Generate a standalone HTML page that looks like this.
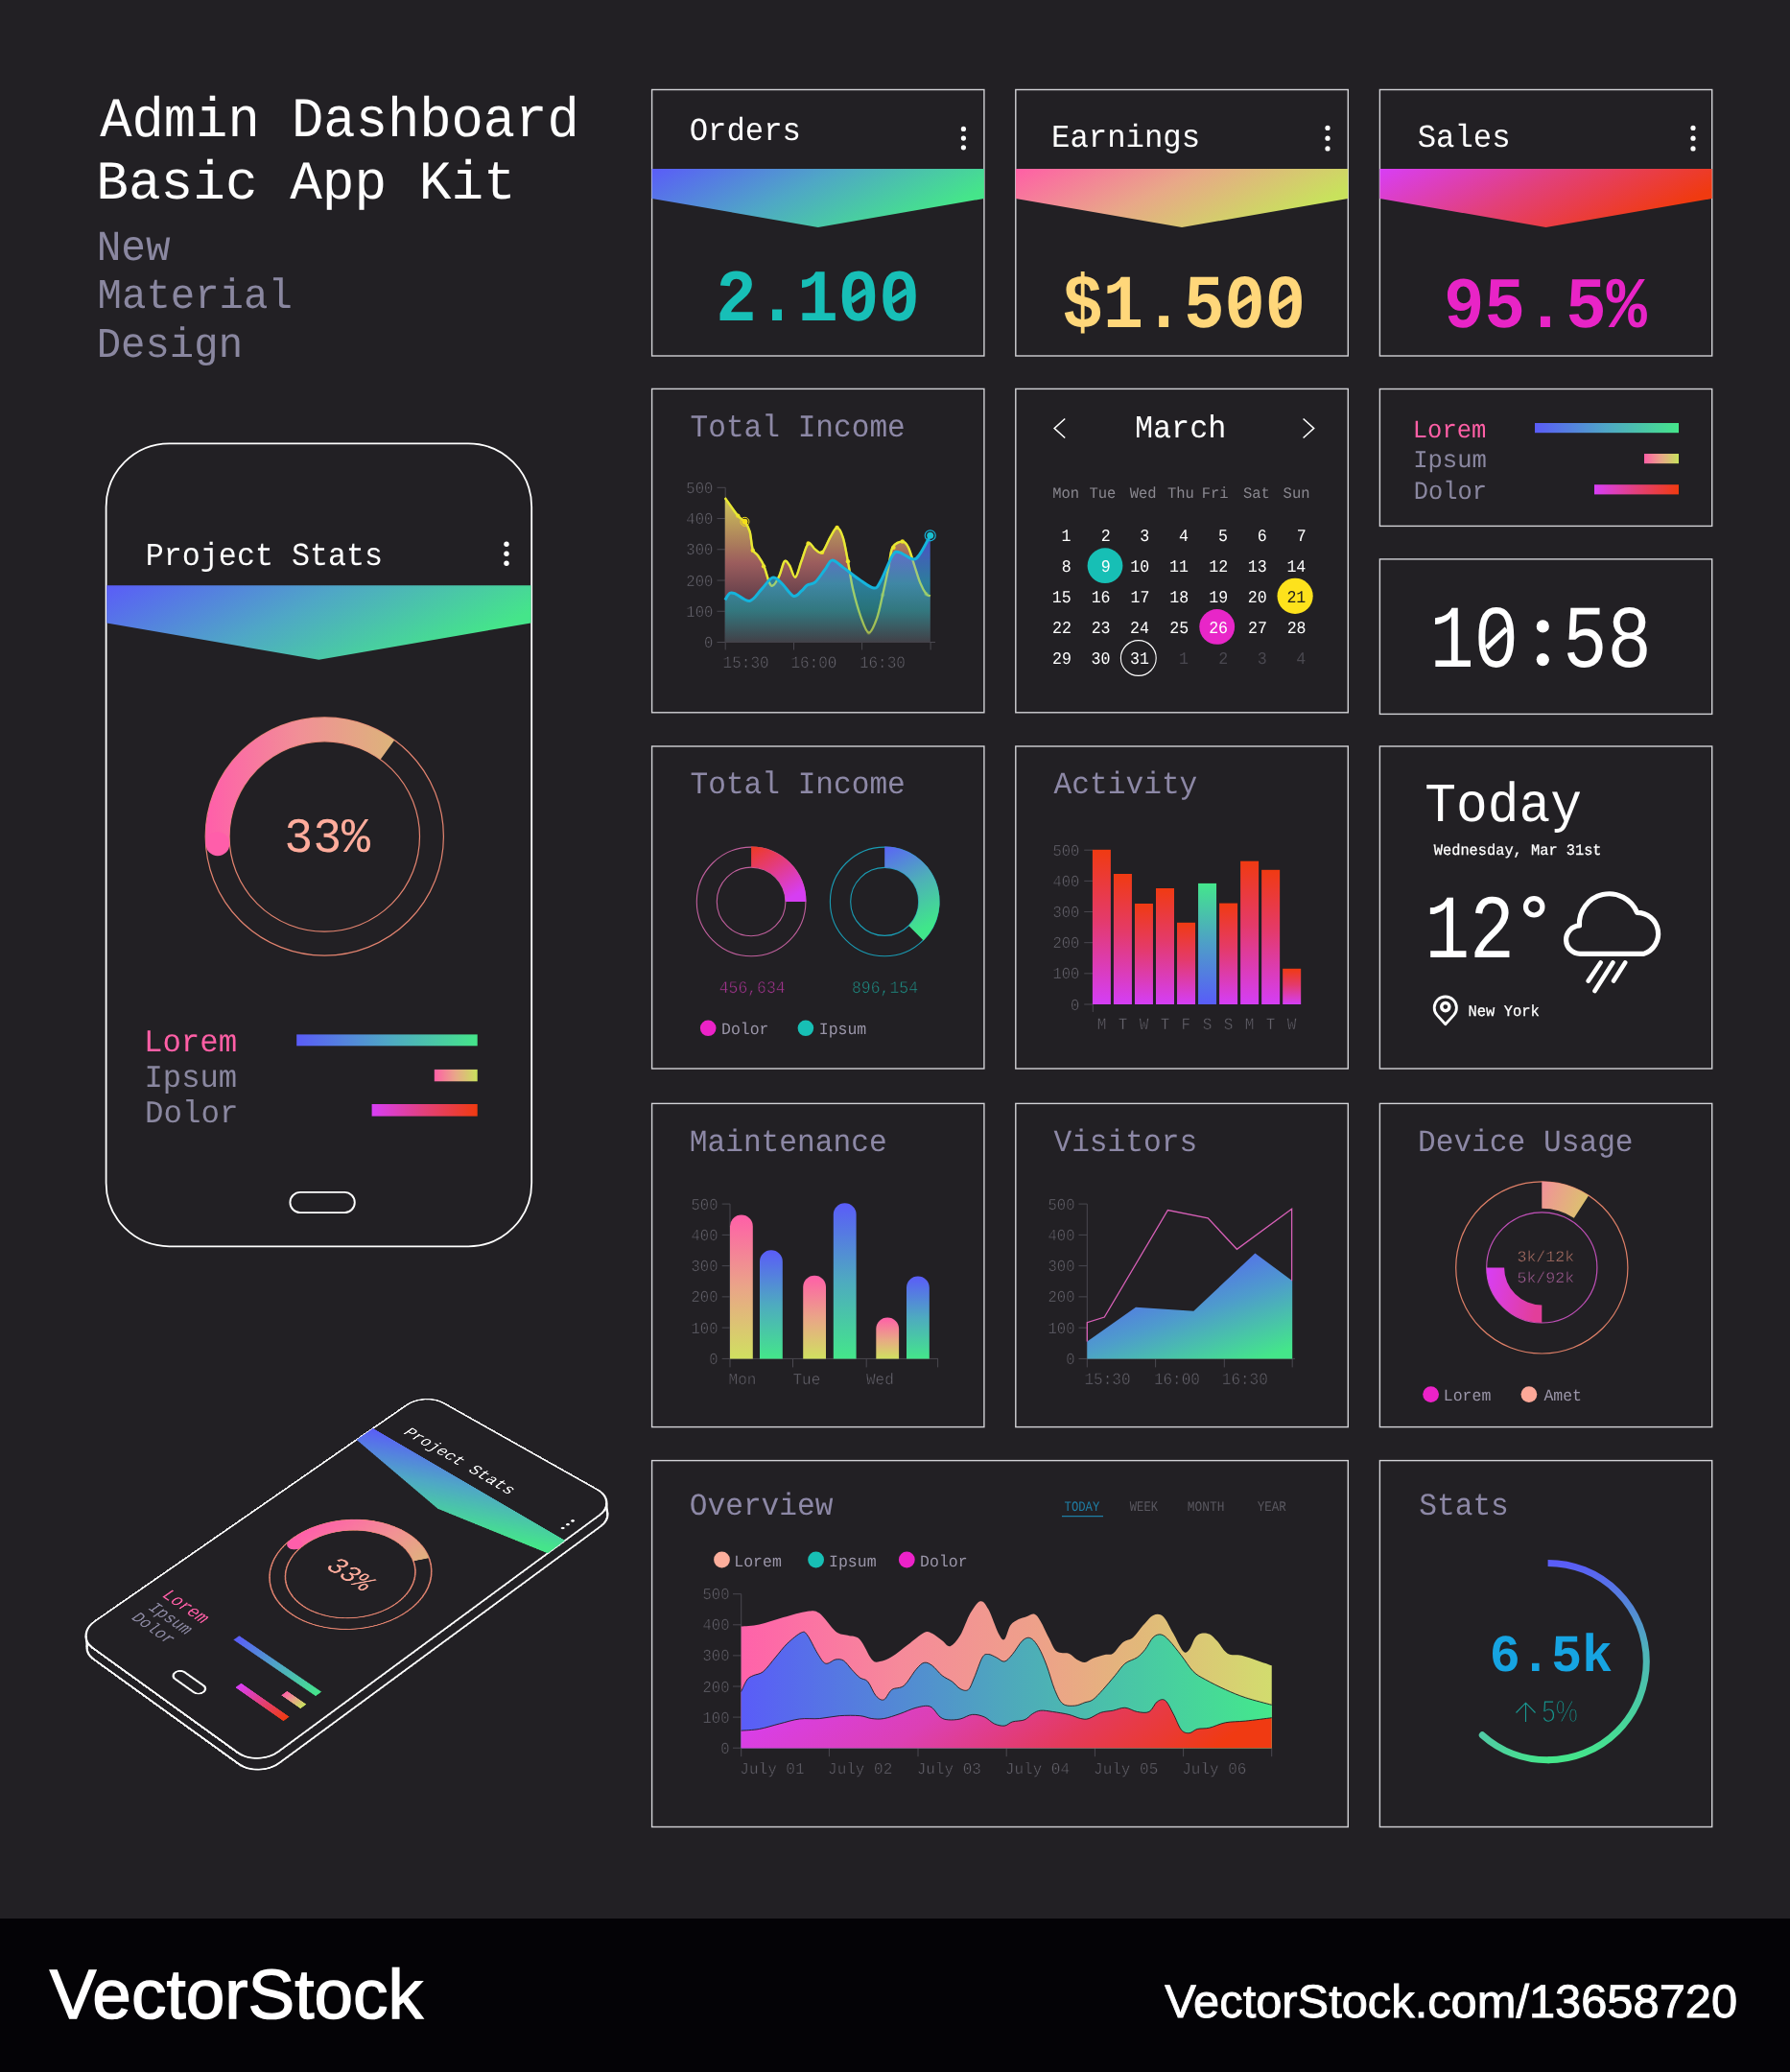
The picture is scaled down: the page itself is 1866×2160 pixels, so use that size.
<!DOCTYPE html>
<html><head><meta charset="utf-8"><style>
html,body{margin:0;padding:0;background:#222024;}
body{width:1866px;height:2160px;overflow:hidden;}
svg{display:block;will-change:transform;}
text{text-rendering:geometricPrecision;}
</style></head><body>
<svg width="1866" height="2160" viewBox="0 0 1866 2160">
<defs><linearGradient id="gBG" x1="0" y1="0" x2="1" y2="0.35"><stop offset="0" stop-color="#5a5cf8"/><stop offset="0.5" stop-color="#4fa7c6"/><stop offset="1" stop-color="#45e58a"/></linearGradient><linearGradient id="gPY" x1="0" y1="0" x2="1" y2="0.35"><stop offset="0" stop-color="#ff5fa6"/><stop offset="0.5" stop-color="#e8a888"/><stop offset="1" stop-color="#c8e25c"/></linearGradient><linearGradient id="gMR" x1="0" y1="0" x2="1" y2="0.35"><stop offset="0" stop-color="#d83ef6"/><stop offset="0.5" stop-color="#e2407a"/><stop offset="1" stop-color="#f03a10"/></linearGradient><linearGradient id="gYF" x1="0" y1="0" x2="0" y2="1"><stop offset="0" stop-color="#d8cf5c"/><stop offset="0.45" stop-color="#a26060"/><stop offset="0.75" stop-color="#5a3a48"/><stop offset="1" stop-color="#3a3640"/></linearGradient><linearGradient id="gCF" x1="0" y1="0" x2="0" y2="1"><stop offset="0" stop-color="#5a5cf8"/><stop offset="0.45" stop-color="#2f98bc"/><stop offset="0.7" stop-color="#2a8a90"/><stop offset="1" stop-color="#44444a"/></linearGradient><linearGradient id="hBG" x1="0" y1="0" x2="1" y2="0"><stop offset="0" stop-color="#5a5cf8"/><stop offset="0.5" stop-color="#4fa7c6"/><stop offset="1" stop-color="#45e58a"/></linearGradient><linearGradient id="hPY" x1="0" y1="0" x2="1" y2="0"><stop offset="0" stop-color="#ff5fa6"/><stop offset="0.5" stop-color="#e8a888"/><stop offset="1" stop-color="#c8e25c"/></linearGradient><linearGradient id="hMR" x1="0" y1="0" x2="1" y2="0"><stop offset="0" stop-color="#d83ef6"/><stop offset="0.5" stop-color="#e2407a"/><stop offset="1" stop-color="#f03a10"/></linearGradient><linearGradient id="dRM" x1="0" y1="0" x2="0.6" y2="1"><stop offset="0" stop-color="#ee3a22"/><stop offset="1" stop-color="#d63ef2"/></linearGradient><linearGradient id="dBG" x1="0" y1="0" x2="0.3" y2="1"><stop offset="0" stop-color="#5a64f6"/><stop offset="0.5" stop-color="#4eb0b8"/><stop offset="1" stop-color="#40e68a"/></linearGradient><linearGradient id="bRP" x1="0" y1="0" x2="0" y2="1"><stop offset="0" stop-color="#f03a12"/><stop offset="0.45" stop-color="#e43a6a"/><stop offset="1" stop-color="#d43ef6"/></linearGradient><linearGradient id="bGB" x1="0" y1="0" x2="0" y2="1"><stop offset="0" stop-color="#44e68c"/><stop offset="0.5" stop-color="#4e9ec8"/><stop offset="1" stop-color="#585cf8"/></linearGradient><linearGradient id="vPY" x1="0" y1="0" x2="0" y2="1"><stop offset="0" stop-color="#ff5fa8"/><stop offset="0.5" stop-color="#eaa488"/><stop offset="1" stop-color="#d0e060"/></linearGradient><linearGradient id="vBG" x1="0" y1="0" x2="0" y2="1"><stop offset="0" stop-color="#5a5cf8"/><stop offset="0.5" stop-color="#4eaac0"/><stop offset="1" stop-color="#44e68a"/></linearGradient><linearGradient id="vis" x1="0.25" y1="0.1" x2="0.85" y2="1"><stop offset="0" stop-color="#585cf8"/><stop offset="0.5" stop-color="#4e9ccc"/><stop offset="1" stop-color="#44e68a"/></linearGradient><linearGradient id="duA" x1="0" y1="0" x2="1" y2="0.3"><stop offset="0" stop-color="#f2909a"/><stop offset="1" stop-color="#dcc070"/></linearGradient><linearGradient id="duL" x1="0" y1="0" x2="1" y2="0.2"><stop offset="0" stop-color="#d83ef6"/><stop offset="1" stop-color="#e23e9a"/></linearGradient><linearGradient id="oT" x1="0" y1="0" x2="1" y2="0"><stop offset="0" stop-color="#ff62aa"/><stop offset="0.3" stop-color="#f68a9a"/><stop offset="0.55" stop-color="#eea08a"/><stop offset="0.75" stop-color="#e2b87a"/><stop offset="1" stop-color="#d2dc6e"/></linearGradient><linearGradient id="oM" x1="0" y1="0" x2="1" y2="0"><stop offset="0" stop-color="#5a5cf8"/><stop offset="0.5" stop-color="#4ea8bc"/><stop offset="1" stop-color="#44e88c"/></linearGradient><linearGradient id="oB" x1="0" y1="0" x2="1" y2="0.12"><stop offset="0" stop-color="#d83ef6"/><stop offset="0.4" stop-color="#dc40b4"/><stop offset="0.7" stop-color="#e43a5c"/><stop offset="0.88" stop-color="#ea3a32"/><stop offset="1" stop-color="#f03a12"/></linearGradient><linearGradient id="stG" gradientUnits="userSpaceOnUse" x1="1613" y1="1629" x2="1613" y2="1836"><stop offset="0" stop-color="#5a5cf8"/><stop offset="0.45" stop-color="#4eb4b8"/><stop offset="1" stop-color="#44e68a"/></linearGradient><linearGradient id="stG2" gradientUnits="userSpaceOnUse" x1="1613" y1="1836" x2="1540" y2="1800"><stop offset="0" stop-color="#44e68a"/><stop offset="1" stop-color="#52c8a8"/></linearGradient><linearGradient id="pA" gradientUnits="userSpaceOnUse" x1="214" y1="0" x2="412" y2="0"><stop offset="0" stop-color="#ff5eaa"/><stop offset="0.5" stop-color="#f19096"/><stop offset="1" stop-color="#dcb47a"/></linearGradient></defs>
<rect x="0" y="0" width="1866" height="2000" fill="#222024"/>
<rect x="0" y="2000" width="1866" height="160" fill="#040306"/>
<text transform="translate(104.20,141.80) scale(1,1.0539)" font-family='"Liberation Mono", monospace' font-size="55.50" fill="#ffffff" >Admin Dashboard</text>
<text transform="translate(100.31,207.30) scale(1,1.0131)" font-family='"Liberation Mono", monospace' font-size="56.07" fill="#ffffff" >Basic App Kit</text>
<text transform="translate(100.68,270.60) scale(1,1.0434)" font-family='"Liberation Mono", monospace' font-size="42.75" fill="#8a87a0" >New</text>
<text transform="translate(101.56,320.90) scale(1,1.0360)" font-family='"Liberation Mono", monospace' font-size="42.35" fill="#8a87a0" >Material</text>
<text transform="translate(100.72,371.80) scale(1,1.0397)" font-family='"Liberation Mono", monospace' font-size="42.30" fill="#8a87a0" >Design</text>
<rect x="679.60" y="93.50" width="346.30" height="277.50" fill="none" stroke="#d2d2d6" stroke-width="1.4"/>
<rect x="1058.80" y="93.50" width="346.50" height="277.50" fill="none" stroke="#d2d2d6" stroke-width="1.4"/>
<rect x="1438.40" y="93.50" width="346.30" height="277.50" fill="none" stroke="#d2d2d6" stroke-width="1.4"/>
<rect x="679.60" y="405.40" width="346.30" height="337.40" fill="none" stroke="#d2d2d6" stroke-width="1.4"/>
<rect x="1058.80" y="405.40" width="346.50" height="337.40" fill="none" stroke="#d2d2d6" stroke-width="1.4"/>
<rect x="1438.40" y="405.50" width="346.30" height="142.90" fill="none" stroke="#d2d2d6" stroke-width="1.4"/>
<rect x="1438.40" y="582.90" width="346.30" height="161.50" fill="none" stroke="#d2d2d6" stroke-width="1.4"/>
<rect x="679.60" y="778.00" width="346.30" height="336.00" fill="none" stroke="#d2d2d6" stroke-width="1.4"/>
<rect x="679.60" y="1150.40" width="346.30" height="337.20" fill="none" stroke="#d2d2d6" stroke-width="1.4"/>
<rect x="1058.80" y="778.00" width="346.50" height="336.00" fill="none" stroke="#d2d2d6" stroke-width="1.4"/>
<rect x="1058.80" y="1150.40" width="346.50" height="337.20" fill="none" stroke="#d2d2d6" stroke-width="1.4"/>
<rect x="1438.40" y="778.00" width="346.30" height="336.00" fill="none" stroke="#d2d2d6" stroke-width="1.4"/>
<rect x="1438.40" y="1150.40" width="346.30" height="337.20" fill="none" stroke="#d2d2d6" stroke-width="1.4"/>
<rect x="679.60" y="1522.60" width="725.70" height="381.90" fill="none" stroke="#d2d2d6" stroke-width="1.4"/>
<rect x="1438.40" y="1522.60" width="346.30" height="381.90" fill="none" stroke="#d2d2d6" stroke-width="1.4"/>
<polygon points="679.6,176.0 1025.9,176.0 1025.9,207.0 852.75,237.0 679.6,207.0" fill="url(#gBG)"/>
<polygon points="1058.8,176.0 1405.3,176.0 1405.3,207.0 1232.05,237.0 1058.8,207.0" fill="url(#gPY)"/>
<polygon points="1438.4,176.0 1784.7,176.0 1784.7,207.0 1611.5500000000002,237.0 1438.4,207.0" fill="url(#gMR)"/>
<text transform="translate(718.68,145.60) scale(1,1.0397)" font-family='"Liberation Mono", monospace' font-size="32.30" fill="#ffffff" >Orders</text>
<text transform="translate(1096.02,152.50) scale(1,1.0397)" font-family='"Liberation Mono", monospace' font-size="32.30" fill="#ffffff" >Earnings</text>
<text transform="translate(1477.71,152.50) scale(1,1.0397)" font-family='"Liberation Mono", monospace' font-size="32.30" fill="#ffffff" >Sales</text>
<circle cx="1004.4" cy="134.40" r="2.6" fill="#ffffff"/>
<circle cx="1004.4" cy="144.10" r="2.6" fill="#ffffff"/>
<circle cx="1004.4" cy="153.80" r="2.6" fill="#ffffff"/>
<circle cx="1384.0" cy="133.40" r="2.6" fill="#ffffff"/>
<circle cx="1384.0" cy="144.15" r="2.6" fill="#ffffff"/>
<circle cx="1384.0" cy="154.90" r="2.6" fill="#ffffff"/>
<circle cx="1765.0" cy="133.40" r="2.6" fill="#ffffff"/>
<circle cx="1765.0" cy="144.15" r="2.6" fill="#ffffff"/>
<circle cx="1765.0" cy="154.90" r="2.6" fill="#ffffff"/>
<text transform="translate(746.25,333.70) scale(1,1.0886)" font-family='"Liberation Mono", monospace' font-size="70.88" fill="#17bfb7" font-weight="bold" >2.100</text>
<text transform="translate(1107.54,340.70) scale(1,1.1252)" font-family='"Liberation Mono", monospace' font-size="70.37" fill="#ffd77a" font-weight="bold" >$1.500</text>
<text transform="translate(1505.12,340.70) scale(1,1.0714)" font-family='"Liberation Mono", monospace' font-size="70.63" fill="#e824c6" font-weight="bold" >95.5%</text>
<rect x="888.20" y="301.30" width="13.6" height="14.4" fill="#222024"/>
<line x1="887.18" y1="313.80" x2="902.82" y2="303.20" stroke="#17bfb7" stroke-width="6.2"/>
<rect x="930.70" y="301.30" width="13.6" height="14.4" fill="#222024"/>
<line x1="929.45" y1="313.80" x2="945.55" y2="303.20" stroke="#17bfb7" stroke-width="6.2"/>
<rect x="1290.70" y="307.80" width="13.6" height="14.4" fill="#222024"/>
<line x1="1289.45" y1="320.40" x2="1305.55" y2="309.60" stroke="#ffd77a" stroke-width="6.2"/>
<rect x="1333.20" y="307.80" width="13.6" height="14.4" fill="#222024"/>
<line x1="1332.18" y1="320.40" x2="1347.82" y2="309.60" stroke="#ffd77a" stroke-width="6.2"/>
<text transform="translate(719.51,455.40) scale(1,1.0555)" font-family='"Liberation Mono", monospace' font-size="31.15" fill="#8d88a6" >Total Income</text>
<line x1="747.5" y1="669.50" x2="756.2" y2="669.50" stroke="#4a4850" stroke-width="1"/>
<text transform="translate(733.93,675.00) scale(1,1.0794)" font-family='"Liberation Mono", monospace' font-size="15.50" fill="#67656e" stroke="#222024" stroke-width="0.45">0</text>
<line x1="747.5" y1="637.26" x2="756.2" y2="637.26" stroke="#4a4850" stroke-width="1"/>
<text transform="translate(715.33,642.76) scale(1,1.0794)" font-family='"Liberation Mono", monospace' font-size="15.50" fill="#67656e" stroke="#222024" stroke-width="0.45">100</text>
<line x1="747.5" y1="605.02" x2="756.2" y2="605.02" stroke="#4a4850" stroke-width="1"/>
<text transform="translate(715.33,610.52) scale(1,1.0794)" font-family='"Liberation Mono", monospace' font-size="15.50" fill="#67656e" stroke="#222024" stroke-width="0.45">200</text>
<line x1="747.5" y1="572.78" x2="756.2" y2="572.78" stroke="#4a4850" stroke-width="1"/>
<text transform="translate(715.33,578.28) scale(1,1.0794)" font-family='"Liberation Mono", monospace' font-size="15.50" fill="#67656e" stroke="#222024" stroke-width="0.45">300</text>
<line x1="747.5" y1="540.54" x2="756.2" y2="540.54" stroke="#4a4850" stroke-width="1"/>
<text transform="translate(715.33,546.04) scale(1,1.0794)" font-family='"Liberation Mono", monospace' font-size="15.50" fill="#67656e" stroke="#222024" stroke-width="0.45">400</text>
<line x1="747.5" y1="508.30" x2="756.2" y2="508.30" stroke="#4a4850" stroke-width="1"/>
<text transform="translate(715.33,513.80) scale(1,1.0794)" font-family='"Liberation Mono", monospace' font-size="15.50" fill="#67656e" stroke="#222024" stroke-width="0.45">500</text>
<line x1="756.2" y1="508.3" x2="756.2" y2="677.5" stroke="#4a4850" stroke-width="1"/>
<line x1="756.2" y1="669.5" x2="975" y2="669.5" stroke="#4a4850" stroke-width="1"/>
<line x1="827.5" y1="669.5" x2="827.5" y2="677.5" stroke="#4a4850" stroke-width="1"/>
<line x1="898.6" y1="669.5" x2="898.6" y2="677.5" stroke="#4a4850" stroke-width="1"/>
<line x1="970.1" y1="669.5" x2="970.1" y2="677.5" stroke="#4a4850" stroke-width="1"/>
<text transform="translate(753.58,696.00) scale(1,1.0794)" font-family='"Liberation Mono", monospace' font-size="16.00" fill="#67656e" stroke="#222024" stroke-width="0.45">15:30</text>
<text transform="translate(824.38,696.00) scale(1,1.0794)" font-family='"Liberation Mono", monospace' font-size="16.00" fill="#67656e" stroke="#222024" stroke-width="0.45">16:00</text>
<text transform="translate(895.88,696.00) scale(1,1.0794)" font-family='"Liberation Mono", monospace' font-size="16.00" fill="#67656e" stroke="#222024" stroke-width="0.45">16:30</text>
<path d="M755.78,519.02 C758.02,522.12 765.77,533.49 769.22,537.62 C772.66,541.76 774.38,541.07 776.45,543.82 C778.52,546.58 780.24,549.34 781.62,554.16 C783.00,558.98 783.34,568.63 784.72,572.76 C786.10,576.90 787.99,576.21 789.89,578.96 C791.78,581.72 794.02,584.48 796.09,589.30 C798.15,594.12 800.57,604.46 802.29,607.90 C804.01,611.35 804.70,611.35 806.42,609.97 C808.14,608.59 810.73,603.77 812.62,599.63 C814.52,595.50 816.07,586.89 817.79,585.16 C819.51,583.44 821.06,586.54 822.96,589.30 C824.85,592.05 827.09,602.39 829.16,601.70 C831.23,601.01 833.12,591.02 835.36,585.16 C837.60,579.31 840.18,568.63 842.59,566.56 C845.01,564.49 847.42,571.21 849.83,572.76 C852.24,574.31 854.48,577.93 857.06,575.86 C859.65,573.80 862.75,564.67 865.33,560.36 C867.92,556.05 870.33,550.02 872.57,550.02 C874.81,550.02 876.87,554.50 878.77,560.36 C880.66,566.22 882.21,576.21 883.93,585.16 C885.66,594.12 886.86,604.46 889.10,614.10 C891.34,623.75 894.61,635.46 897.37,643.04 C900.13,650.62 902.88,659.23 905.64,659.58 C908.39,659.92 911.49,651.65 913.91,645.11 C916.32,638.56 918.04,629.26 920.11,620.30 C922.17,611.35 924.59,599.63 926.31,591.37 C928.03,583.10 928.03,575.17 930.44,570.69 C932.85,566.22 938.02,564.49 940.78,564.49 C943.53,564.49 944.91,566.56 946.98,570.69 C949.05,574.83 951.11,583.10 953.18,589.30 C955.25,595.50 957.31,602.91 959.38,607.90 C961.45,612.90 963.86,617.03 965.58,619.27 C967.30,621.51 969.03,620.99 969.71,621.34 L969.71,669.5 L755.78,669.5 Z" fill="url(#gYF)" fill-opacity="0.95"/>
<path d="M755.78,519.02 C758.02,522.12 765.77,533.49 769.22,537.62 C772.66,541.76 774.38,541.07 776.45,543.82 C778.52,546.58 780.24,549.34 781.62,554.16 C783.00,558.98 783.34,568.63 784.72,572.76 C786.10,576.90 787.99,576.21 789.89,578.96 C791.78,581.72 794.02,584.48 796.09,589.30 C798.15,594.12 800.57,604.46 802.29,607.90 C804.01,611.35 804.70,611.35 806.42,609.97 C808.14,608.59 810.73,603.77 812.62,599.63 C814.52,595.50 816.07,586.89 817.79,585.16 C819.51,583.44 821.06,586.54 822.96,589.30 C824.85,592.05 827.09,602.39 829.16,601.70 C831.23,601.01 833.12,591.02 835.36,585.16 C837.60,579.31 840.18,568.63 842.59,566.56 C845.01,564.49 847.42,571.21 849.83,572.76 C852.24,574.31 854.48,577.93 857.06,575.86 C859.65,573.80 862.75,564.67 865.33,560.36 C867.92,556.05 870.33,550.02 872.57,550.02 C874.81,550.02 876.87,554.50 878.77,560.36 C880.66,566.22 882.21,576.21 883.93,585.16 C885.66,594.12 886.86,604.46 889.10,614.10 C891.34,623.75 894.61,635.46 897.37,643.04 C900.13,650.62 902.88,659.23 905.64,659.58 C908.39,659.92 911.49,651.65 913.91,645.11 C916.32,638.56 918.04,629.26 920.11,620.30 C922.17,611.35 924.59,599.63 926.31,591.37 C928.03,583.10 928.03,575.17 930.44,570.69 C932.85,566.22 938.02,564.49 940.78,564.49 C943.53,564.49 944.91,566.56 946.98,570.69 C949.05,574.83 951.11,583.10 953.18,589.30 C955.25,595.50 957.31,602.91 959.38,607.90 C961.45,612.90 963.86,617.03 965.58,619.27 C967.30,621.51 969.03,620.99 969.71,621.34" fill="none" stroke="#f5de1a" stroke-width="2.4"/>
<circle cx="769.22" cy="537.62" r="2.2" fill="#f5de1a"/>
<circle cx="784.72" cy="573.80" r="2.2" fill="#f5de1a"/>
<circle cx="796.09" cy="590.33" r="2.2" fill="#f5de1a"/>
<circle cx="842.59" cy="566.56" r="2.2" fill="#f5de1a"/>
<circle cx="857.06" cy="575.86" r="2.2" fill="#f5de1a"/>
<circle cx="872.57" cy="550.02" r="2.2" fill="#f5de1a"/>
<circle cx="883.93" cy="585.16" r="2.2" fill="#f5de1a"/>
<circle cx="905.64" cy="659.58" r="2.2" fill="#f5de1a"/>
<circle cx="920.11" cy="620.30" r="2.2" fill="#f5de1a"/>
<circle cx="931.48" cy="570.69" r="2.2" fill="#f5de1a"/>
<circle cx="940.78" cy="564.49" r="2.2" fill="#f5de1a"/>
<circle cx="965.58" cy="619.27" r="2.2" fill="#f5de1a"/>
<path d="M755.78,625.47 C756.64,624.26 759.05,619.27 760.95,618.24 C762.84,617.20 763.70,617.89 767.15,619.27 C770.59,620.65 777.14,627.37 781.62,626.50 C786.10,625.64 790.06,618.17 794.02,614.10 C797.98,610.04 801.94,603.15 805.39,602.11 C808.83,601.08 811.07,604.70 814.69,607.90 C818.31,611.10 823.65,619.96 827.09,621.34 C830.54,622.71 832.95,618.06 835.36,616.17 C837.77,614.27 839.15,611.52 841.56,609.97 C843.97,608.42 846.73,609.62 849.83,606.87 C852.93,604.11 857.24,597.22 860.16,593.43 C863.09,589.64 864.30,584.48 867.40,584.13 C870.50,583.79 874.12,588.09 878.77,591.37 C883.42,594.64 889.96,600.15 895.30,603.77 C900.64,607.38 907.02,612.72 910.81,613.07 C914.59,613.41 914.77,611.52 918.04,605.83 C921.31,600.15 927.17,583.96 930.44,578.96 C933.71,573.97 934.06,575.17 937.68,575.86 C941.29,576.55 948.53,582.92 952.15,583.10 C955.76,583.27 956.45,581.03 959.38,576.90 C962.31,572.76 967.99,561.39 969.71,558.29 L969.71,669.5 L755.78,669.5 Z" fill="url(#gCF)" fill-opacity="0.78"/>
<path d="M755.78,519.02 C758.02,522.12 765.77,533.49 769.22,537.62 C772.66,541.76 774.38,541.07 776.45,543.82 C778.52,546.58 780.24,549.34 781.62,554.16 C783.00,558.98 783.34,568.63 784.72,572.76 C786.10,576.90 787.99,576.21 789.89,578.96 C791.78,581.72 794.02,584.48 796.09,589.30 C798.15,594.12 800.57,604.46 802.29,607.90 C804.01,611.35 804.70,611.35 806.42,609.97 C808.14,608.59 810.73,603.77 812.62,599.63 C814.52,595.50 816.07,586.89 817.79,585.16 C819.51,583.44 821.06,586.54 822.96,589.30 C824.85,592.05 827.09,602.39 829.16,601.70 C831.23,601.01 833.12,591.02 835.36,585.16 C837.60,579.31 840.18,568.63 842.59,566.56 C845.01,564.49 847.42,571.21 849.83,572.76 C852.24,574.31 854.48,577.93 857.06,575.86 C859.65,573.80 862.75,564.67 865.33,560.36 C867.92,556.05 870.33,550.02 872.57,550.02 C874.81,550.02 876.87,554.50 878.77,560.36 C880.66,566.22 882.21,576.21 883.93,585.16 C885.66,594.12 886.86,604.46 889.10,614.10 C891.34,623.75 894.61,635.46 897.37,643.04 C900.13,650.62 902.88,659.23 905.64,659.58 C908.39,659.92 911.49,651.65 913.91,645.11 C916.32,638.56 918.04,629.26 920.11,620.30 C922.17,611.35 924.59,599.63 926.31,591.37 C928.03,583.10 928.03,575.17 930.44,570.69 C932.85,566.22 938.02,564.49 940.78,564.49 C943.53,564.49 944.91,566.56 946.98,570.69 C949.05,574.83 951.11,583.10 953.18,589.30 C955.25,595.50 957.31,602.91 959.38,607.90 C961.45,612.90 963.86,617.03 965.58,619.27 C967.30,621.51 969.03,620.99 969.71,621.34" fill="none" stroke="#d8f050" stroke-width="2.2" stroke-opacity="0.55"/>
<path d="M755.78,625.47 C756.64,624.26 759.05,619.27 760.95,618.24 C762.84,617.20 763.70,617.89 767.15,619.27 C770.59,620.65 777.14,627.37 781.62,626.50 C786.10,625.64 790.06,618.17 794.02,614.10 C797.98,610.04 801.94,603.15 805.39,602.11 C808.83,601.08 811.07,604.70 814.69,607.90 C818.31,611.10 823.65,619.96 827.09,621.34 C830.54,622.71 832.95,618.06 835.36,616.17 C837.77,614.27 839.15,611.52 841.56,609.97 C843.97,608.42 846.73,609.62 849.83,606.87 C852.93,604.11 857.24,597.22 860.16,593.43 C863.09,589.64 864.30,584.48 867.40,584.13 C870.50,583.79 874.12,588.09 878.77,591.37 C883.42,594.64 889.96,600.15 895.30,603.77 C900.64,607.38 907.02,612.72 910.81,613.07 C914.59,613.41 914.77,611.52 918.04,605.83 C921.31,600.15 927.17,583.96 930.44,578.96 C933.71,573.97 934.06,575.17 937.68,575.86 C941.29,576.55 948.53,582.92 952.15,583.10 C955.76,583.27 956.45,581.03 959.38,576.90 C962.31,572.76 967.99,561.39 969.71,558.29" fill="none" stroke="#15b4dc" stroke-width="3"/>
<circle cx="776.45" cy="543.82" r="4.5" fill="none" stroke="#f5de1a" stroke-width="1"/><circle cx="776.45" cy="543.82" r="3" fill="#f5de1a"/>
<circle cx="969.71" cy="558.29" r="5.5" fill="none" stroke="#15b4dc" stroke-width="1.2"/><circle cx="969.71" cy="558.29" r="3.5" fill="#19c0d0"/>
<text transform="translate(1182.89,456.00) scale(1,1.0436)" font-family='"Liberation Mono", monospace' font-size="31.84" fill="#ffffff" >March</text>
<path d="M1110.2,436.5 L1099.2,446.5 L1110.2,456.5" fill="none" stroke="#fff" stroke-width="1.6"/>
<path d="M1358.6,436.5 L1369.6,446.5 L1358.6,456.5" fill="none" stroke="#fff" stroke-width="1.6"/>
<text transform="translate(1097.24,518.60) scale(1,1.0397)" font-family='"Liberation Mono", monospace' font-size="15.50" fill="#8a8890" >Mon</text>
<text transform="translate(1135.48,518.60) scale(1,1.0397)" font-family='"Liberation Mono", monospace' font-size="15.50" fill="#8a8890" >Tue</text>
<text transform="translate(1177.75,518.60) scale(1,1.0397)" font-family='"Liberation Mono", monospace' font-size="15.50" fill="#8a8890" >Wed</text>
<text transform="translate(1216.94,518.60) scale(1,1.0397)" font-family='"Liberation Mono", monospace' font-size="15.50" fill="#8a8890" >Thu</text>
<text transform="translate(1252.70,518.60) scale(1,1.0397)" font-family='"Liberation Mono", monospace' font-size="15.50" fill="#8a8890" >Fri</text>
<text transform="translate(1295.95,518.60) scale(1,1.0397)" font-family='"Liberation Mono", monospace' font-size="15.50" fill="#8a8890" >Sat</text>
<text transform="translate(1337.60,518.60) scale(1,1.0397)" font-family='"Liberation Mono", monospace' font-size="15.50" fill="#8a8890" >Sun</text>
<circle cx="1152.0" cy="589.7" r="18.4" fill="#17bfb5"/>
<circle cx="1350.1" cy="621.3" r="18.6" fill="#fde21c"/>
<circle cx="1268.7" cy="653.4" r="18.4" fill="#e826c8"/>
<circle cx="1186.8" cy="686.0" r="18.4" fill="none" stroke="#ffffff" stroke-width="1.1"/>
<text transform="translate(1106.57,563.50) scale(1,1.0794)" font-family='"Liberation Mono", monospace' font-size="16.60" fill="#ffffff" >1</text>
<text transform="translate(1147.70,563.50) scale(1,1.0794)" font-family='"Liberation Mono", monospace' font-size="16.60" fill="#ffffff" >2</text>
<text transform="translate(1188.32,563.50) scale(1,1.0794)" font-family='"Liberation Mono", monospace' font-size="16.60" fill="#ffffff" >3</text>
<text transform="translate(1228.97,563.50) scale(1,1.0794)" font-family='"Liberation Mono", monospace' font-size="16.60" fill="#ffffff" >4</text>
<text transform="translate(1270.12,563.50) scale(1,1.0794)" font-family='"Liberation Mono", monospace' font-size="16.60" fill="#ffffff" >5</text>
<text transform="translate(1310.82,563.50) scale(1,1.0794)" font-family='"Liberation Mono", monospace' font-size="16.60" fill="#ffffff" >6</text>
<text transform="translate(1351.87,563.50) scale(1,1.0794)" font-family='"Liberation Mono", monospace' font-size="16.60" fill="#ffffff" >7</text>
<text transform="translate(1106.82,595.50) scale(1,1.0794)" font-family='"Liberation Mono", monospace' font-size="16.60" fill="#ffffff" >8</text>
<text transform="translate(1147.70,595.50) scale(1,1.0794)" font-family='"Liberation Mono", monospace' font-size="16.60" fill="#ffffff" >9</text>
<text transform="translate(1178.28,595.50) scale(1,1.0794)" font-family='"Liberation Mono", monospace' font-size="16.60" fill="#ffffff" >10</text>
<text transform="translate(1219.01,595.50) scale(1,1.0794)" font-family='"Liberation Mono", monospace' font-size="16.60" fill="#ffffff" >11</text>
<text transform="translate(1260.24,595.50) scale(1,1.0794)" font-family='"Liberation Mono", monospace' font-size="16.60" fill="#ffffff" >12</text>
<text transform="translate(1300.86,595.50) scale(1,1.0794)" font-family='"Liberation Mono", monospace' font-size="16.60" fill="#ffffff" >13</text>
<text transform="translate(1341.41,595.50) scale(1,1.0794)" font-family='"Liberation Mono", monospace' font-size="16.60" fill="#ffffff" >14</text>
<text transform="translate(1096.86,627.50) scale(1,1.0794)" font-family='"Liberation Mono", monospace' font-size="16.60" fill="#ffffff" >15</text>
<text transform="translate(1137.66,627.50) scale(1,1.0794)" font-family='"Liberation Mono", monospace' font-size="16.60" fill="#ffffff" >16</text>
<text transform="translate(1178.61,627.50) scale(1,1.0794)" font-family='"Liberation Mono", monospace' font-size="16.60" fill="#ffffff" >17</text>
<text transform="translate(1219.26,627.50) scale(1,1.0794)" font-family='"Liberation Mono", monospace' font-size="16.60" fill="#ffffff" >18</text>
<text transform="translate(1260.24,627.50) scale(1,1.0794)" font-family='"Liberation Mono", monospace' font-size="16.60" fill="#ffffff" >19</text>
<text transform="translate(1300.78,627.50) scale(1,1.0794)" font-family='"Liberation Mono", monospace' font-size="16.60" fill="#ffffff" >20</text>
<text transform="translate(1341.41,627.50) scale(1,1.0794)" font-family='"Liberation Mono", monospace' font-size="16.60" fill="#1a1a1a" >21</text>
<text transform="translate(1096.94,659.60) scale(1,1.0794)" font-family='"Liberation Mono", monospace' font-size="16.60" fill="#ffffff" >22</text>
<text transform="translate(1137.66,659.60) scale(1,1.0794)" font-family='"Liberation Mono", monospace' font-size="16.60" fill="#ffffff" >23</text>
<text transform="translate(1178.11,659.60) scale(1,1.0794)" font-family='"Liberation Mono", monospace' font-size="16.60" fill="#ffffff" >24</text>
<text transform="translate(1219.26,659.60) scale(1,1.0794)" font-family='"Liberation Mono", monospace' font-size="16.60" fill="#ffffff" >25</text>
<text transform="translate(1260.16,659.60) scale(1,1.0794)" font-family='"Liberation Mono", monospace' font-size="16.60" fill="#ffffff" >26</text>
<text transform="translate(1301.11,659.60) scale(1,1.0794)" font-family='"Liberation Mono", monospace' font-size="16.60" fill="#ffffff" >27</text>
<text transform="translate(1341.66,659.60) scale(1,1.0794)" font-family='"Liberation Mono", monospace' font-size="16.60" fill="#ffffff" >28</text>
<text transform="translate(1096.94,691.60) scale(1,1.0794)" font-family='"Liberation Mono", monospace' font-size="16.60" fill="#ffffff" >29</text>
<text transform="translate(1137.58,691.60) scale(1,1.0794)" font-family='"Liberation Mono", monospace' font-size="16.60" fill="#ffffff" >30</text>
<text transform="translate(1178.11,691.60) scale(1,1.0794)" font-family='"Liberation Mono", monospace' font-size="16.60" fill="#ffffff" >31</text>
<text transform="translate(1228.97,691.60) scale(1,1.0794)" font-family='"Liberation Mono", monospace' font-size="16.60" fill="#4a4850" >1</text>
<text transform="translate(1270.20,691.60) scale(1,1.0794)" font-family='"Liberation Mono", monospace' font-size="16.60" fill="#4a4850" >2</text>
<text transform="translate(1310.82,691.60) scale(1,1.0794)" font-family='"Liberation Mono", monospace' font-size="16.60" fill="#4a4850" >3</text>
<text transform="translate(1351.37,691.60) scale(1,1.0794)" font-family='"Liberation Mono", monospace' font-size="16.60" fill="#4a4850" >4</text>
<text transform="translate(1472.77,455.80) scale(1,1.0298)" font-family='"Liberation Mono", monospace' font-size="25.50" fill="#ff5fa6" >Lorem</text>
<text transform="translate(1473.14,487.20) scale(1,0.9986)" font-family='"Liberation Mono", monospace' font-size="25.58" fill="#8a87a0" >Ipsum</text>
<text transform="translate(1473.67,520.00) scale(1,1.0438)" font-family='"Liberation Mono", monospace' font-size="25.41" fill="#8a87a0" >Dolor</text>
<rect x="1600" y="441" width="150" height="10.2" fill="url(#hBG)"/>
<rect x="1714" y="473" width="36" height="10.2" fill="url(#hPY)"/>
<rect x="1662" y="505.2" width="88" height="10.2" fill="url(#hMR)"/>
<text transform="translate(1490.61,695.00) scale(1,1.2057)" font-family='"Liberation Mono", monospace' font-size="77.00" fill="#ffffff" >10 58</text>
<circle cx="1608.3" cy="652.9" r="6.6" fill="#fff"/><circle cx="1608.3" cy="687.6" r="6.6" fill="#fff"/>
<rect x="1553.5" y="657.0" width="13" height="15" fill="#222024"/>
<line x1="1549.5" y1="675.5" x2="1570.5" y2="655.5" stroke="#fff" stroke-width="5.4"/>
<text transform="translate(719.51,827.30) scale(1,1.0506)" font-family='"Liberation Mono", monospace' font-size="31.15" fill="#8d88a6" >Total Income</text>
<circle cx="783.1" cy="939.9" r="56.8" fill="none" stroke="#c2609e" stroke-width="1.1"/>
<circle cx="783.1" cy="939.9" r="35.8" fill="none" stroke="#c2609e" stroke-width="1.1"/>
<circle cx="922.2" cy="939.9" r="56.8" fill="none" stroke="#1a9cb4" stroke-width="1.1"/>
<circle cx="922.2" cy="939.9" r="35.5" fill="none" stroke="#1a9cb4" stroke-width="1.1"/>
<path d="M783.10,882.60 A57.3,57.3 0 0 1 840.40,939.90 L818.90,939.90 A35.8,35.8 0 0 0 783.10,904.10 Z" fill="url(#dRM)"/>
<path d="M922.20,882.60 A57.3,57.3 0 0 1 962.72,980.42 L947.30,965.00 A35.5,35.5 0 0 0 922.20,904.40 Z" fill="url(#dBG)"/>
<text transform="translate(749.78,1035.20) scale(1,1.0928)" font-family='"Liberation Mono", monospace' font-size="16.39" fill="#a3358f" stroke="#222024" stroke-width="0.45">456,634</text>
<text transform="translate(887.93,1035.20) scale(1,1.0871)" font-family='"Liberation Mono", monospace' font-size="16.47" fill="#1f8f86" stroke="#222024" stroke-width="0.45">896,154</text>
<circle cx="738.2" cy="1071.8" r="8.3" fill="#ec22c8"/>
<circle cx="839.9" cy="1071.8" r="8.3" fill="#17bfb5"/>
<text transform="translate(751.98,1078.00) scale(1,1.0397)" font-family='"Liberation Mono", monospace' font-size="16.50" fill="#9a95a8" >Dolor</text>
<text transform="translate(853.75,1078.00) scale(1,1.0397)" font-family='"Liberation Mono", monospace' font-size="16.50" fill="#9a95a8" >Ipsum</text>
<text transform="translate(1098.60,827.30) scale(1,1.0397)" font-family='"Liberation Mono", monospace' font-size="31.20" fill="#8d88a6" >Activity</text>
<line x1="1130.2" y1="1047.00" x2="1139.3" y2="1047.00" stroke="#4a4850" stroke-width="1"/>
<text transform="translate(1116.03,1052.50) scale(1,1.0794)" font-family='"Liberation Mono", monospace' font-size="15.50" fill="#67656e" stroke="#222024" stroke-width="0.45">0</text>
<line x1="1130.2" y1="1014.84" x2="1139.3" y2="1014.84" stroke="#4a4850" stroke-width="1"/>
<text transform="translate(1097.43,1020.34) scale(1,1.0794)" font-family='"Liberation Mono", monospace' font-size="15.50" fill="#67656e" stroke="#222024" stroke-width="0.45">100</text>
<line x1="1130.2" y1="982.68" x2="1139.3" y2="982.68" stroke="#4a4850" stroke-width="1"/>
<text transform="translate(1097.43,988.18) scale(1,1.0794)" font-family='"Liberation Mono", monospace' font-size="15.50" fill="#67656e" stroke="#222024" stroke-width="0.45">200</text>
<line x1="1130.2" y1="950.52" x2="1139.3" y2="950.52" stroke="#4a4850" stroke-width="1"/>
<text transform="translate(1097.43,956.02) scale(1,1.0794)" font-family='"Liberation Mono", monospace' font-size="15.50" fill="#67656e" stroke="#222024" stroke-width="0.45">300</text>
<line x1="1130.2" y1="918.36" x2="1139.3" y2="918.36" stroke="#4a4850" stroke-width="1"/>
<text transform="translate(1097.43,923.86) scale(1,1.0794)" font-family='"Liberation Mono", monospace' font-size="15.50" fill="#67656e" stroke="#222024" stroke-width="0.45">400</text>
<line x1="1130.2" y1="886.20" x2="1139.3" y2="886.20" stroke="#4a4850" stroke-width="1"/>
<text transform="translate(1097.43,891.70) scale(1,1.0794)" font-family='"Liberation Mono", monospace' font-size="15.50" fill="#67656e" stroke="#222024" stroke-width="0.45">500</text>
<line x1="1139.3" y1="1047.0" x2="1139.3" y2="1055.0" stroke="#4a4850" stroke-width="1"/>
<rect x="1138.90" y="885.8" width="19.0" height="161.20" fill="url(#bRP)"/>
<text transform="translate(1143.64,1072.80) scale(1,1.0794)" font-family='"Liberation Mono", monospace' font-size="16.00" fill="#67656e" stroke="#222024" stroke-width="0.45">M</text>
<rect x="1160.93" y="911.0" width="19.0" height="136.00" fill="url(#bRP)"/>
<text transform="translate(1165.63,1072.80) scale(1,1.0794)" font-family='"Liberation Mono", monospace' font-size="16.00" fill="#67656e" stroke="#222024" stroke-width="0.45">T</text>
<rect x="1182.96" y="942.0" width="19.0" height="105.00" fill="url(#bRP)"/>
<text transform="translate(1187.66,1072.80) scale(1,1.0794)" font-family='"Liberation Mono", monospace' font-size="16.00" fill="#67656e" stroke="#222024" stroke-width="0.45">W</text>
<rect x="1204.99" y="926.0" width="19.0" height="121.00" fill="url(#bRP)"/>
<text transform="translate(1209.69,1072.80) scale(1,1.0794)" font-family='"Liberation Mono", monospace' font-size="16.00" fill="#67656e" stroke="#222024" stroke-width="0.45">T</text>
<rect x="1227.02" y="961.8" width="19.0" height="85.20" fill="url(#bRP)"/>
<text transform="translate(1231.52,1072.80) scale(1,1.0794)" font-family='"Liberation Mono", monospace' font-size="16.00" fill="#67656e" stroke="#222024" stroke-width="0.45">F</text>
<rect x="1249.05" y="920.9" width="19.0" height="126.10" fill="url(#bGB)"/>
<text transform="translate(1253.83,1072.80) scale(1,1.0794)" font-family='"Liberation Mono", monospace' font-size="16.00" fill="#67656e" stroke="#222024" stroke-width="0.45">S</text>
<rect x="1271.08" y="941.6" width="19.0" height="105.40" fill="url(#bRP)"/>
<text transform="translate(1275.86,1072.80) scale(1,1.0794)" font-family='"Liberation Mono", monospace' font-size="16.00" fill="#67656e" stroke="#222024" stroke-width="0.45">S</text>
<rect x="1293.11" y="897.7" width="19.0" height="149.30" fill="url(#bRP)"/>
<text transform="translate(1297.85,1072.80) scale(1,1.0794)" font-family='"Liberation Mono", monospace' font-size="16.00" fill="#67656e" stroke="#222024" stroke-width="0.45">M</text>
<rect x="1315.14" y="906.8" width="19.0" height="140.20" fill="url(#bRP)"/>
<text transform="translate(1319.84,1072.80) scale(1,1.0794)" font-family='"Liberation Mono", monospace' font-size="16.00" fill="#67656e" stroke="#222024" stroke-width="0.45">T</text>
<rect x="1337.17" y="1009.8" width="19.0" height="37.20" fill="url(#bRP)"/>
<text transform="translate(1341.87,1072.80) scale(1,1.0794)" font-family='"Liberation Mono", monospace' font-size="16.00" fill="#67656e" stroke="#222024" stroke-width="0.45">W</text>
<text transform="translate(1485.29,855.90) scale(1,1.0595)" font-family='"Liberation Mono", monospace' font-size="54.54" fill="#ffffff" >Today</text>
<text transform="translate(1494.80,891.00) scale(1,1.0445)" font-family='"Liberation Mono", monospace' font-size="15.33" fill="#ffffff" stroke="#fff" stroke-width="0.25">Wednesday, Mar 31st</text>
<text transform="translate(1485.13,997.70) scale(1,1.2099)" font-family='"Liberation Mono", monospace' font-size="78.21" fill="#ffffff" >12</text>
<circle cx="1599.2" cy="945.3" r="8.7" fill="none" stroke="#fff" stroke-width="5.2"/>
<text transform="translate(1530.56,1059.00) scale(1,1.0597)" font-family='"Liberation Mono", monospace' font-size="15.46" fill="#ffffff" stroke="#fff" stroke-width="0.25">New York</text>
<path d="M1647.4,994.4 A14.8,14.8 0 0 1 1646.45,964.83 A31.2,31.2 0 0 1 1706.53,951.33 A22.1,22.1 0 0 1 1713.50,994.4 Z" fill="none" stroke="#fff" stroke-width="5.2" stroke-linejoin="round"/>
<line x1="1668.6" y1="1003.5" x2="1655.7" y2="1022.6" stroke="#fff" stroke-width="4.6" stroke-linecap="round"/>
<line x1="1681.4" y1="1003.5" x2="1662.5" y2="1033.1" stroke="#fff" stroke-width="4.6" stroke-linecap="round"/>
<line x1="1694.2" y1="1003.5" x2="1682.1" y2="1022.6" stroke="#fff" stroke-width="4.6" stroke-linecap="round"/>
<path d="M1506.8,1067.8 L1498.24,1058.42 A11.6,11.6 0 1 1 1515.36,1058.42 Z" fill="none" stroke="#fff" stroke-width="2.8" stroke-linejoin="round"/>
<circle cx="1506.8" cy="1049.6" r="4.1" fill="none" stroke="#fff" stroke-width="3.4"/>
<text transform="translate(718.73,1200.40) scale(1,1.0397)" font-family='"Liberation Mono", monospace' font-size="31.20" fill="#8d88a6" >Maintenance</text>
<line x1="752.7" y1="1416.40" x2="761.0" y2="1416.40" stroke="#4a4850" stroke-width="1"/>
<text transform="translate(739.13,1421.90) scale(1,1.0794)" font-family='"Liberation Mono", monospace' font-size="15.50" fill="#67656e" stroke="#222024" stroke-width="0.45">0</text>
<line x1="752.7" y1="1384.14" x2="761.0" y2="1384.14" stroke="#4a4850" stroke-width="1"/>
<text transform="translate(720.53,1389.64) scale(1,1.0794)" font-family='"Liberation Mono", monospace' font-size="15.50" fill="#67656e" stroke="#222024" stroke-width="0.45">100</text>
<line x1="752.7" y1="1351.88" x2="761.0" y2="1351.88" stroke="#4a4850" stroke-width="1"/>
<text transform="translate(720.53,1357.38) scale(1,1.0794)" font-family='"Liberation Mono", monospace' font-size="15.50" fill="#67656e" stroke="#222024" stroke-width="0.45">200</text>
<line x1="752.7" y1="1319.62" x2="761.0" y2="1319.62" stroke="#4a4850" stroke-width="1"/>
<text transform="translate(720.53,1325.12) scale(1,1.0794)" font-family='"Liberation Mono", monospace' font-size="15.50" fill="#67656e" stroke="#222024" stroke-width="0.45">300</text>
<line x1="752.7" y1="1287.36" x2="761.0" y2="1287.36" stroke="#4a4850" stroke-width="1"/>
<text transform="translate(720.53,1292.86) scale(1,1.0794)" font-family='"Liberation Mono", monospace' font-size="15.50" fill="#67656e" stroke="#222024" stroke-width="0.45">400</text>
<line x1="752.7" y1="1255.10" x2="761.0" y2="1255.10" stroke="#4a4850" stroke-width="1"/>
<text transform="translate(720.53,1260.60) scale(1,1.0794)" font-family='"Liberation Mono", monospace' font-size="15.50" fill="#67656e" stroke="#222024" stroke-width="0.45">500</text>
<line x1="761.0" y1="1255.1" x2="761.0" y2="1425.4" stroke="#4a4850" stroke-width="1"/>
<line x1="761.0" y1="1416.4" x2="978" y2="1416.4" stroke="#4a4850" stroke-width="1"/>
<line x1="826.5" y1="1416.4" x2="826.5" y2="1425.4" stroke="#4a4850" stroke-width="1"/>
<line x1="903.2" y1="1416.4" x2="903.2" y2="1425.4" stroke="#4a4850" stroke-width="1"/>
<line x1="977.6" y1="1416.4" x2="977.6" y2="1425.4" stroke="#4a4850" stroke-width="1"/>
<text transform="translate(759.54,1442.80) scale(1,1.0397)" font-family='"Liberation Mono", monospace' font-size="16.00" fill="#67656e" stroke="#222024" stroke-width="0.45">Mon</text>
<text transform="translate(826.44,1442.80) scale(1,1.0397)" font-family='"Liberation Mono", monospace' font-size="16.00" fill="#67656e" stroke="#222024" stroke-width="0.45">Tue</text>
<text transform="translate(903.00,1442.80) scale(1,1.0397)" font-family='"Liberation Mono", monospace' font-size="16.00" fill="#67656e" stroke="#222024" stroke-width="0.45">Wed</text>
<path d="M761.00,1416.4 L761.00,1278.40 A11.90,11.90 0 0 1 784.80,1278.40 L784.80,1416.4 Z" fill="url(#vPY)"/>
<path d="M792.00,1416.4 L792.00,1315.20 A11.90,11.90 0 0 1 815.80,1315.20 L815.80,1416.4 Z" fill="url(#vBG)"/>
<path d="M837.20,1416.4 L837.20,1341.70 A11.90,11.90 0 0 1 861.00,1341.70 L861.00,1416.4 Z" fill="url(#vPY)"/>
<path d="M868.80,1416.4 L868.80,1266.20 A11.90,11.90 0 0 1 892.60,1266.20 L892.60,1416.4 Z" fill="url(#vBG)"/>
<path d="M913.30,1416.4 L913.30,1385.50 A11.90,11.90 0 0 1 937.10,1385.50 L937.10,1416.4 Z" fill="url(#vPY)"/>
<path d="M945.00,1416.4 L945.00,1342.50 A11.90,11.90 0 0 1 968.80,1342.50 L968.80,1416.4 Z" fill="url(#vBG)"/>
<text transform="translate(1098.44,1200.40) scale(1,1.0397)" font-family='"Liberation Mono", monospace' font-size="31.20" fill="#8d88a6" >Visitors</text>
<line x1="1124.5" y1="1416.40" x2="1133.3" y2="1416.40" stroke="#4a4850" stroke-width="1"/>
<text transform="translate(1111.13,1421.90) scale(1,1.0794)" font-family='"Liberation Mono", monospace' font-size="15.50" fill="#67656e" stroke="#222024" stroke-width="0.45">0</text>
<line x1="1124.5" y1="1384.14" x2="1133.3" y2="1384.14" stroke="#4a4850" stroke-width="1"/>
<text transform="translate(1092.53,1389.64) scale(1,1.0794)" font-family='"Liberation Mono", monospace' font-size="15.50" fill="#67656e" stroke="#222024" stroke-width="0.45">100</text>
<line x1="1124.5" y1="1351.88" x2="1133.3" y2="1351.88" stroke="#4a4850" stroke-width="1"/>
<text transform="translate(1092.53,1357.38) scale(1,1.0794)" font-family='"Liberation Mono", monospace' font-size="15.50" fill="#67656e" stroke="#222024" stroke-width="0.45">200</text>
<line x1="1124.5" y1="1319.62" x2="1133.3" y2="1319.62" stroke="#4a4850" stroke-width="1"/>
<text transform="translate(1092.53,1325.12) scale(1,1.0794)" font-family='"Liberation Mono", monospace' font-size="15.50" fill="#67656e" stroke="#222024" stroke-width="0.45">300</text>
<line x1="1124.5" y1="1287.36" x2="1133.3" y2="1287.36" stroke="#4a4850" stroke-width="1"/>
<text transform="translate(1092.53,1292.86) scale(1,1.0794)" font-family='"Liberation Mono", monospace' font-size="15.50" fill="#67656e" stroke="#222024" stroke-width="0.45">400</text>
<line x1="1124.5" y1="1255.10" x2="1133.3" y2="1255.10" stroke="#4a4850" stroke-width="1"/>
<text transform="translate(1092.53,1260.60) scale(1,1.0794)" font-family='"Liberation Mono", monospace' font-size="15.50" fill="#67656e" stroke="#222024" stroke-width="0.45">500</text>
<line x1="1133.3" y1="1255.1" x2="1133.3" y2="1425.4" stroke="#4a4850" stroke-width="1"/>
<line x1="1133.3" y1="1416.4" x2="1350" y2="1416.4" stroke="#4a4850" stroke-width="1"/>
<line x1="1204.6" y1="1416.4" x2="1204.6" y2="1425.4" stroke="#4a4850" stroke-width="1"/>
<line x1="1276.3" y1="1416.4" x2="1276.3" y2="1425.4" stroke="#4a4850" stroke-width="1"/>
<line x1="1347.2" y1="1416.4" x2="1347.2" y2="1425.4" stroke="#4a4850" stroke-width="1"/>
<text transform="translate(1130.48,1442.80) scale(1,1.0794)" font-family='"Liberation Mono", monospace' font-size="16.00" fill="#67656e" stroke="#222024" stroke-width="0.45">15:30</text>
<text transform="translate(1202.88,1442.80) scale(1,1.0794)" font-family='"Liberation Mono", monospace' font-size="16.00" fill="#67656e" stroke="#222024" stroke-width="0.45">16:00</text>
<text transform="translate(1273.78,1442.80) scale(1,1.0794)" font-family='"Liberation Mono", monospace' font-size="16.00" fill="#67656e" stroke="#222024" stroke-width="0.45">16:30</text>
<polygon points="1133.3,1398.4 1184.0,1362.8 1244.3,1366.7 1308.4,1306.4 1347.2,1335.3 1347.2,1416.4 1133.3,1416.4" fill="url(#vis)"/>
<polyline points="1133.3,1398.4 1133.3,1378.7 1151.3,1373.0 1217.4,1261.5 1259.2,1269.8 1289.4,1302.3 1346.6,1260.3 1346.6,1335.3" fill="none" stroke="#d860b8" stroke-width="1.3"/>
<text transform="translate(1478.00,1199.70) scale(1,1.0397)" font-family='"Liberation Mono", monospace' font-size="31.20" fill="#8d88a6" >Device Usage</text>
<circle cx="1607.3" cy="1321.4" r="89.6" fill="none" stroke="#e08068" stroke-width="1.2"/>
<circle cx="1607.3" cy="1321.4" r="57.6" fill="none" stroke="#c050b8" stroke-width="1.2"/>
<path d="M1607.30,1231.80 A89.6,89.6 0 0 1 1656.10,1246.26 L1640.85,1269.74 A61.6,61.6 0 0 0 1607.30,1259.80 Z" fill="url(#duA)"/>
<path d="M1607.30,1379.00 A57.6,57.6 0 0 1 1549.70,1321.40 L1568.10,1321.40 A39.2,39.2 0 0 0 1607.30,1360.60 Z" fill="url(#duL)"/>
<text transform="translate(1581.42,1315.00) scale(1,0.9630)" font-family='"Liberation Mono", monospace' font-size="16.61" fill="#b8786c" stroke="#222024" stroke-width="0.45">3k/12k</text>
<text transform="translate(1581.42,1337.00) scale(1,0.9630)" font-family='"Liberation Mono", monospace' font-size="16.61" fill="#a8609a" stroke="#222024" stroke-width="0.45">5k/92k</text>
<circle cx="1491.6" cy="1453.6" r="8.4" fill="#ec22c8"/>
<circle cx="1593.9" cy="1453.6" r="8.4" fill="#fca898"/>
<text transform="translate(1504.80,1460.00) scale(1,1.0397)" font-family='"Liberation Mono", monospace' font-size="16.50" fill="#9a95a8" >Lorem</text>
<text transform="translate(1609.40,1460.00) scale(1,1.0397)" font-family='"Liberation Mono", monospace' font-size="16.50" fill="#9a95a8" >Amet</text>
<text transform="translate(718.74,1579.10) scale(1,1.0397)" font-family='"Liberation Mono", monospace' font-size="31.20" fill="#8d88a6" >Overview</text>
<text transform="translate(1109.57,1575.00) scale(1,1.1843)" font-family='"Liberation Mono", monospace' font-size="12.22" fill="#1f7fa6" >TODAY</text>
<line x1="1107" y1="1580.6" x2="1150" y2="1580.6" stroke="#1f7fa6" stroke-width="1.2"/>
<text transform="translate(1177.80,1575.00) scale(1,1.2080)" font-family='"Liberation Mono", monospace' font-size="12.17" fill="#5a5860" >WEEK</text>
<text transform="translate(1237.83,1575.00) scale(1,1.1221)" font-family='"Liberation Mono", monospace' font-size="12.90" fill="#5a5860" >MONTH</text>
<text transform="translate(1310.75,1575.00) scale(1,1.1733)" font-family='"Liberation Mono", monospace' font-size="12.53" fill="#5a5860" >YEAR</text>
<circle cx="752.5" cy="1626.0" r="8.4" fill="#fcae9c"/>
<circle cx="850.6" cy="1626.0" r="8.4" fill="#17bfb5"/>
<circle cx="945.3" cy="1626.0" r="8.4" fill="#ec22c8"/>
<text transform="translate(765.30,1632.80) scale(1,1.0397)" font-family='"Liberation Mono", monospace' font-size="16.50" fill="#9a95a8" >Lorem</text>
<text transform="translate(864.05,1632.80) scale(1,1.0397)" font-family='"Liberation Mono", monospace' font-size="16.50" fill="#9a95a8" >Ipsum</text>
<text transform="translate(959.08,1632.80) scale(1,1.0397)" font-family='"Liberation Mono", monospace' font-size="16.50" fill="#9a95a8" >Dolor</text>
<line x1="764" y1="1822.20" x2="772.7" y2="1822.20" stroke="#4a4850" stroke-width="1"/>
<text transform="translate(751.13,1827.70) scale(1,1.0794)" font-family='"Liberation Mono", monospace' font-size="15.50" fill="#67656e" stroke="#222024" stroke-width="0.45">0</text>
<line x1="764" y1="1790.10" x2="772.7" y2="1790.10" stroke="#4a4850" stroke-width="1"/>
<text transform="translate(732.53,1795.60) scale(1,1.0794)" font-family='"Liberation Mono", monospace' font-size="15.50" fill="#67656e" stroke="#222024" stroke-width="0.45">100</text>
<line x1="764" y1="1758.00" x2="772.7" y2="1758.00" stroke="#4a4850" stroke-width="1"/>
<text transform="translate(732.53,1763.50) scale(1,1.0794)" font-family='"Liberation Mono", monospace' font-size="15.50" fill="#67656e" stroke="#222024" stroke-width="0.45">200</text>
<line x1="764" y1="1725.90" x2="772.7" y2="1725.90" stroke="#4a4850" stroke-width="1"/>
<text transform="translate(732.53,1731.40) scale(1,1.0794)" font-family='"Liberation Mono", monospace' font-size="15.50" fill="#67656e" stroke="#222024" stroke-width="0.45">300</text>
<line x1="764" y1="1693.80" x2="772.7" y2="1693.80" stroke="#4a4850" stroke-width="1"/>
<text transform="translate(732.53,1699.30) scale(1,1.0794)" font-family='"Liberation Mono", monospace' font-size="15.50" fill="#67656e" stroke="#222024" stroke-width="0.45">400</text>
<line x1="764" y1="1661.70" x2="772.7" y2="1661.70" stroke="#4a4850" stroke-width="1"/>
<text transform="translate(732.53,1667.20) scale(1,1.0794)" font-family='"Liberation Mono", monospace' font-size="15.50" fill="#67656e" stroke="#222024" stroke-width="0.45">500</text>
<line x1="772.7" y1="1661.7" x2="772.7" y2="1831.2" stroke="#4a4850" stroke-width="1"/>
<line x1="772.7" y1="1822.2" x2="1326" y2="1822.2" stroke="#4a4850" stroke-width="1"/>
<line x1="864.4" y1="1822.2" x2="864.4" y2="1831.2" stroke="#4a4850" stroke-width="1"/>
<line x1="957.0" y1="1822.2" x2="957.0" y2="1831.2" stroke="#4a4850" stroke-width="1"/>
<line x1="1049.2" y1="1822.2" x2="1049.2" y2="1831.2" stroke="#4a4850" stroke-width="1"/>
<line x1="1141.4" y1="1822.2" x2="1141.4" y2="1831.2" stroke="#4a4850" stroke-width="1"/>
<line x1="1233.6" y1="1822.2" x2="1233.6" y2="1831.2" stroke="#4a4850" stroke-width="1"/>
<line x1="1325.7" y1="1822.2" x2="1325.7" y2="1831.2" stroke="#4a4850" stroke-width="1"/>
<text transform="translate(771.34,1849.40) scale(1,1.0397)" font-family='"Liberation Mono", monospace' font-size="16.00" fill="#67656e" stroke="#222024" stroke-width="0.45">July 01</text>
<text transform="translate(863.04,1849.40) scale(1,1.0397)" font-family='"Liberation Mono", monospace' font-size="16.00" fill="#67656e" stroke="#222024" stroke-width="0.45">July 02</text>
<text transform="translate(955.64,1849.40) scale(1,1.0397)" font-family='"Liberation Mono", monospace' font-size="16.00" fill="#67656e" stroke="#222024" stroke-width="0.45">July 03</text>
<text transform="translate(1047.84,1849.40) scale(1,1.0397)" font-family='"Liberation Mono", monospace' font-size="16.00" fill="#67656e" stroke="#222024" stroke-width="0.45">July 04</text>
<text transform="translate(1140.04,1849.40) scale(1,1.0397)" font-family='"Liberation Mono", monospace' font-size="16.00" fill="#67656e" stroke="#222024" stroke-width="0.45">July 05</text>
<text transform="translate(1232.24,1849.40) scale(1,1.0397)" font-family='"Liberation Mono", monospace' font-size="16.00" fill="#67656e" stroke="#222024" stroke-width="0.45">July 06</text>
<path d="M772.65,1695.62 C775.80,1695.27 784.18,1695.13 791.51,1693.52 C798.84,1691.92 808.27,1688.28 816.65,1685.98 C825.03,1683.68 835.50,1680.39 841.79,1679.69 C848.07,1679.00 849.47,1678.30 854.36,1681.79 C859.25,1685.28 866.23,1696.80 871.12,1700.64 C876.01,1704.49 879.50,1703.44 883.69,1704.84 C887.88,1706.23 892.07,1704.84 896.26,1709.03 C900.45,1713.22 905.34,1726.13 908.83,1729.97 C912.32,1733.82 913.72,1732.56 917.21,1732.07 C920.70,1731.58 924.89,1729.97 929.78,1727.04 C934.67,1724.11 940.95,1718.66 946.54,1714.47 C952.13,1710.28 959.11,1703.86 963.30,1701.90 C967.49,1699.95 968.54,1701.34 971.68,1702.74 C974.82,1704.14 979.01,1708.05 982.15,1710.28 C985.30,1712.52 987.39,1717.06 990.53,1716.15 C993.68,1715.24 997.52,1710.56 1001.01,1704.84 C1004.50,1699.11 1007.99,1687.73 1011.49,1681.79 C1014.98,1675.85 1018.82,1669.92 1021.96,1669.22 C1025.10,1668.52 1027.20,1672.01 1030.34,1677.60 C1033.48,1683.19 1038.02,1697.50 1040.82,1702.74 C1043.61,1707.98 1045.00,1710.42 1047.10,1709.03 C1049.19,1707.63 1050.94,1697.85 1053.38,1694.36 C1055.83,1690.87 1058.97,1689.61 1061.76,1688.08 C1064.56,1686.54 1067.35,1686.05 1070.14,1685.14 C1072.94,1684.23 1076.08,1681.79 1078.53,1682.63 C1080.97,1683.47 1082.37,1686.12 1084.81,1690.17 C1087.25,1694.22 1090.40,1701.69 1093.19,1706.93 C1095.98,1712.17 1098.08,1718.80 1101.57,1721.60 C1105.06,1724.39 1110.65,1722.29 1114.14,1723.69 C1117.63,1725.09 1119.73,1728.44 1122.52,1729.97 C1125.31,1731.51 1128.11,1733.12 1130.90,1732.91 C1133.69,1732.70 1135.79,1730.04 1139.28,1728.72 C1142.77,1727.39 1148.36,1725.79 1151.85,1724.95 C1155.34,1724.11 1157.09,1725.85 1160.23,1723.69 C1163.37,1721.53 1167.21,1714.75 1170.70,1711.96 C1174.20,1709.16 1177.69,1709.86 1181.18,1706.93 C1184.67,1704.00 1188.16,1698.20 1191.65,1694.36 C1195.15,1690.52 1198.64,1685.42 1202.13,1683.88 C1205.62,1682.35 1209.11,1682.00 1212.61,1685.14 C1216.10,1688.28 1219.59,1696.66 1223.08,1702.74 C1226.57,1708.82 1230.76,1718.80 1233.55,1721.60 C1236.35,1724.39 1237.75,1721.94 1239.84,1719.50 C1241.94,1717.06 1244.03,1709.72 1246.12,1706.93 C1248.22,1704.14 1249.97,1703.30 1252.41,1702.74 C1254.85,1702.18 1258.00,1702.18 1260.79,1703.58 C1263.58,1704.97 1266.03,1707.77 1269.17,1711.12 C1272.31,1714.47 1275.45,1721.25 1279.64,1723.69 C1283.84,1726.13 1289.07,1724.53 1294.31,1725.79 C1299.55,1727.04 1305.83,1729.49 1311.07,1731.23 C1316.31,1732.98 1323.29,1735.42 1325.74,1736.26 L1325.74,1822.2 L772.65,1822.2 Z" fill="url(#oT)"/>
<path d="M772.65,1763.49 C773.70,1761.40 776.85,1753.72 778.94,1750.92 C781.04,1748.13 782.43,1748.13 785.23,1746.73 C788.02,1745.34 791.86,1745.69 795.70,1742.55 C799.54,1739.40 804.08,1732.77 808.27,1727.88 C812.46,1722.99 816.30,1717.54 820.84,1713.21 C825.38,1708.89 832.01,1703.30 835.50,1701.90 C839.00,1700.51 839.00,1701.20 841.79,1704.84 C844.58,1708.47 849.12,1718.80 852.26,1723.69 C855.41,1728.58 857.50,1733.12 860.64,1734.16 C863.79,1735.21 867.98,1730.46 871.12,1729.97 C874.26,1729.49 876.71,1729.49 879.50,1731.23 C882.29,1732.98 885.09,1737.52 887.88,1740.45 C890.67,1743.38 893.47,1746.73 896.26,1748.83 C899.05,1750.92 901.85,1749.88 904.64,1753.02 C907.43,1756.16 910.23,1764.54 913.02,1767.68 C915.81,1770.83 918.61,1772.92 921.40,1771.88 C924.19,1770.83 926.29,1763.84 929.78,1761.40 C933.27,1758.96 938.16,1760.70 942.35,1757.21 C946.54,1753.72 951.43,1744.43 954.92,1740.45 C958.41,1736.47 960.51,1734.03 963.30,1733.33 C966.09,1732.63 968.54,1734.03 971.68,1736.26 C974.82,1738.49 978.66,1743.94 982.15,1746.73 C985.65,1749.53 989.49,1750.72 992.63,1753.02 C995.77,1755.32 998.22,1759.17 1001.01,1760.56 C1003.80,1761.96 1006.95,1763.36 1009.39,1761.40 C1011.83,1759.44 1013.23,1754.42 1015.67,1748.83 C1018.12,1743.24 1021.61,1731.93 1024.06,1727.88 C1026.50,1723.83 1027.90,1724.53 1030.34,1724.53 C1032.78,1724.53 1035.93,1726.62 1038.72,1727.88 C1041.51,1729.14 1044.31,1732.63 1047.10,1732.07 C1049.89,1731.51 1052.34,1728.16 1055.48,1724.53 C1058.62,1720.90 1062.81,1713.08 1065.95,1710.28 C1069.10,1707.49 1071.54,1706.58 1074.34,1707.77 C1077.13,1708.96 1079.92,1712.66 1082.71,1717.40 C1085.51,1722.15 1088.30,1728.93 1091.10,1736.26 C1093.89,1743.59 1096.68,1754.77 1099.47,1761.40 C1102.27,1768.03 1104.36,1773.27 1107.86,1776.07 C1111.35,1778.86 1116.58,1778.37 1120.42,1778.16 C1124.27,1777.95 1127.76,1775.86 1130.90,1774.81 C1134.04,1773.76 1136.14,1774.11 1139.28,1771.88 C1142.42,1769.64 1145.91,1765.59 1149.76,1761.40 C1153.60,1757.21 1158.48,1751.27 1162.33,1746.73 C1166.17,1742.20 1168.96,1737.31 1172.80,1734.16 C1176.64,1731.02 1181.88,1730.32 1185.37,1727.88 C1188.86,1725.44 1190.96,1722.99 1193.75,1719.50 C1196.54,1716.01 1199.34,1709.51 1202.13,1706.93 C1204.92,1704.35 1207.72,1703.44 1210.51,1704.00 C1213.30,1704.56 1215.40,1706.65 1218.89,1710.28 C1222.38,1713.91 1227.27,1720.41 1231.46,1725.79 C1235.65,1731.16 1239.84,1738.36 1244.03,1742.55 C1248.22,1746.74 1251.01,1747.78 1256.60,1750.92 C1262.19,1754.07 1270.57,1758.26 1277.55,1761.40 C1284.53,1764.54 1290.47,1767.13 1298.50,1769.78 C1306.53,1772.43 1321.20,1776.07 1325.74,1777.32 L1325.74,1822.2 L772.65,1822.2 Z" fill="url(#oM)"/>
<path d="M772.65,1763.49 C773.70,1761.40 776.85,1753.72 778.94,1750.92 C781.04,1748.13 782.43,1748.13 785.23,1746.73 C788.02,1745.34 791.86,1745.69 795.70,1742.55 C799.54,1739.40 804.08,1732.77 808.27,1727.88 C812.46,1722.99 816.30,1717.54 820.84,1713.21 C825.38,1708.89 832.01,1703.30 835.50,1701.90 C839.00,1700.51 839.00,1701.20 841.79,1704.84 C844.58,1708.47 849.12,1718.80 852.26,1723.69 C855.41,1728.58 857.50,1733.12 860.64,1734.16 C863.79,1735.21 867.98,1730.46 871.12,1729.97 C874.26,1729.49 876.71,1729.49 879.50,1731.23 C882.29,1732.98 885.09,1737.52 887.88,1740.45 C890.67,1743.38 893.47,1746.73 896.26,1748.83 C899.05,1750.92 901.85,1749.88 904.64,1753.02 C907.43,1756.16 910.23,1764.54 913.02,1767.68 C915.81,1770.83 918.61,1772.92 921.40,1771.88 C924.19,1770.83 926.29,1763.84 929.78,1761.40 C933.27,1758.96 938.16,1760.70 942.35,1757.21 C946.54,1753.72 951.43,1744.43 954.92,1740.45 C958.41,1736.47 960.51,1734.03 963.30,1733.33 C966.09,1732.63 968.54,1734.03 971.68,1736.26 C974.82,1738.49 978.66,1743.94 982.15,1746.73 C985.65,1749.53 989.49,1750.72 992.63,1753.02 C995.77,1755.32 998.22,1759.17 1001.01,1760.56 C1003.80,1761.96 1006.95,1763.36 1009.39,1761.40 C1011.83,1759.44 1013.23,1754.42 1015.67,1748.83 C1018.12,1743.24 1021.61,1731.93 1024.06,1727.88 C1026.50,1723.83 1027.90,1724.53 1030.34,1724.53 C1032.78,1724.53 1035.93,1726.62 1038.72,1727.88 C1041.51,1729.14 1044.31,1732.63 1047.10,1732.07 C1049.89,1731.51 1052.34,1728.16 1055.48,1724.53 C1058.62,1720.90 1062.81,1713.08 1065.95,1710.28 C1069.10,1707.49 1071.54,1706.58 1074.34,1707.77 C1077.13,1708.96 1079.92,1712.66 1082.71,1717.40 C1085.51,1722.15 1088.30,1728.93 1091.10,1736.26 C1093.89,1743.59 1096.68,1754.77 1099.47,1761.40 C1102.27,1768.03 1104.36,1773.27 1107.86,1776.07 C1111.35,1778.86 1116.58,1778.37 1120.42,1778.16 C1124.27,1777.95 1127.76,1775.86 1130.90,1774.81 C1134.04,1773.76 1136.14,1774.11 1139.28,1771.88 C1142.42,1769.64 1145.91,1765.59 1149.76,1761.40 C1153.60,1757.21 1158.48,1751.27 1162.33,1746.73 C1166.17,1742.20 1168.96,1737.31 1172.80,1734.16 C1176.64,1731.02 1181.88,1730.32 1185.37,1727.88 C1188.86,1725.44 1190.96,1722.99 1193.75,1719.50 C1196.54,1716.01 1199.34,1709.51 1202.13,1706.93 C1204.92,1704.35 1207.72,1703.44 1210.51,1704.00 C1213.30,1704.56 1215.40,1706.65 1218.89,1710.28 C1222.38,1713.91 1227.27,1720.41 1231.46,1725.79 C1235.65,1731.16 1239.84,1738.36 1244.03,1742.55 C1248.22,1746.74 1251.01,1747.78 1256.60,1750.92 C1262.19,1754.07 1270.57,1758.26 1277.55,1761.40 C1284.53,1764.54 1290.47,1767.13 1298.50,1769.78 C1306.53,1772.43 1321.20,1776.07 1325.74,1777.32" fill="none" stroke="#1e1c22" stroke-width="0.9"/>
<path d="M772.65,1804.14 C775.80,1803.86 784.88,1803.65 791.51,1802.46 C798.14,1801.27 805.48,1798.76 812.46,1797.01 C819.44,1795.27 826.43,1792.89 833.41,1791.99 C840.39,1791.08 847.38,1792.13 854.36,1791.57 C861.34,1791.01 868.33,1789.12 875.31,1788.63 C882.29,1788.15 890.67,1788.15 896.26,1788.63 C901.85,1789.12 904.64,1791.08 908.83,1791.57 C913.02,1792.06 916.51,1792.41 921.40,1791.57 C926.29,1790.73 932.57,1788.43 938.16,1786.54 C943.75,1784.65 949.68,1781.51 954.92,1780.26 C960.16,1779.00 965.40,1777.39 969.59,1779.00 C973.77,1780.60 976.92,1787.59 980.06,1789.89 C983.20,1792.20 984.95,1792.48 988.44,1792.83 C991.93,1793.17 996.82,1792.89 1001.01,1791.99 C1005.20,1791.08 1009.39,1787.73 1013.58,1787.38 C1017.77,1787.03 1022.31,1788.29 1026.15,1789.89 C1029.99,1791.50 1033.13,1795.48 1036.62,1797.01 C1040.12,1798.55 1043.96,1799.46 1047.10,1799.11 C1050.24,1798.76 1051.99,1795.97 1055.48,1794.92 C1058.97,1793.87 1064.56,1794.22 1068.05,1792.83 C1071.54,1791.43 1073.64,1788.15 1076.43,1786.54 C1079.22,1784.93 1081.32,1783.54 1084.81,1783.19 C1088.30,1782.84 1092.49,1783.75 1097.38,1784.44 C1102.27,1785.14 1109.25,1786.19 1114.14,1787.38 C1119.03,1788.57 1123.22,1790.87 1126.71,1791.57 C1130.20,1792.27 1131.60,1792.62 1135.09,1791.57 C1138.58,1790.52 1143.47,1786.68 1147.66,1785.28 C1151.85,1783.89 1156.04,1784.03 1160.23,1783.19 C1164.42,1782.35 1168.61,1780.05 1172.80,1780.26 C1176.99,1780.46 1181.18,1783.75 1185.37,1784.44 C1189.56,1785.14 1194.45,1786.19 1197.94,1784.44 C1201.43,1782.70 1203.53,1775.93 1206.32,1773.97 C1209.11,1772.01 1211.91,1770.62 1214.70,1772.71 C1217.49,1774.81 1220.29,1781.44 1223.08,1786.54 C1225.87,1791.64 1228.67,1799.95 1231.46,1803.30 C1234.25,1806.65 1237.05,1806.79 1239.84,1806.65 C1242.63,1806.51 1244.73,1803.37 1248.22,1802.46 C1251.71,1801.55 1255.90,1802.32 1260.79,1801.20 C1265.68,1800.09 1271.26,1796.95 1277.55,1795.76 C1283.84,1794.57 1290.47,1794.92 1298.50,1794.08 C1306.53,1793.24 1321.20,1791.29 1325.74,1790.73 L1325.74,1822.2 L772.65,1822.2 Z" fill="url(#oB)"/>
<path d="M772.65,1804.14 C775.80,1803.86 784.88,1803.65 791.51,1802.46 C798.14,1801.27 805.48,1798.76 812.46,1797.01 C819.44,1795.27 826.43,1792.89 833.41,1791.99 C840.39,1791.08 847.38,1792.13 854.36,1791.57 C861.34,1791.01 868.33,1789.12 875.31,1788.63 C882.29,1788.15 890.67,1788.15 896.26,1788.63 C901.85,1789.12 904.64,1791.08 908.83,1791.57 C913.02,1792.06 916.51,1792.41 921.40,1791.57 C926.29,1790.73 932.57,1788.43 938.16,1786.54 C943.75,1784.65 949.68,1781.51 954.92,1780.26 C960.16,1779.00 965.40,1777.39 969.59,1779.00 C973.77,1780.60 976.92,1787.59 980.06,1789.89 C983.20,1792.20 984.95,1792.48 988.44,1792.83 C991.93,1793.17 996.82,1792.89 1001.01,1791.99 C1005.20,1791.08 1009.39,1787.73 1013.58,1787.38 C1017.77,1787.03 1022.31,1788.29 1026.15,1789.89 C1029.99,1791.50 1033.13,1795.48 1036.62,1797.01 C1040.12,1798.55 1043.96,1799.46 1047.10,1799.11 C1050.24,1798.76 1051.99,1795.97 1055.48,1794.92 C1058.97,1793.87 1064.56,1794.22 1068.05,1792.83 C1071.54,1791.43 1073.64,1788.15 1076.43,1786.54 C1079.22,1784.93 1081.32,1783.54 1084.81,1783.19 C1088.30,1782.84 1092.49,1783.75 1097.38,1784.44 C1102.27,1785.14 1109.25,1786.19 1114.14,1787.38 C1119.03,1788.57 1123.22,1790.87 1126.71,1791.57 C1130.20,1792.27 1131.60,1792.62 1135.09,1791.57 C1138.58,1790.52 1143.47,1786.68 1147.66,1785.28 C1151.85,1783.89 1156.04,1784.03 1160.23,1783.19 C1164.42,1782.35 1168.61,1780.05 1172.80,1780.26 C1176.99,1780.46 1181.18,1783.75 1185.37,1784.44 C1189.56,1785.14 1194.45,1786.19 1197.94,1784.44 C1201.43,1782.70 1203.53,1775.93 1206.32,1773.97 C1209.11,1772.01 1211.91,1770.62 1214.70,1772.71 C1217.49,1774.81 1220.29,1781.44 1223.08,1786.54 C1225.87,1791.64 1228.67,1799.95 1231.46,1803.30 C1234.25,1806.65 1237.05,1806.79 1239.84,1806.65 C1242.63,1806.51 1244.73,1803.37 1248.22,1802.46 C1251.71,1801.55 1255.90,1802.32 1260.79,1801.20 C1265.68,1800.09 1271.26,1796.95 1277.55,1795.76 C1283.84,1794.57 1290.47,1794.92 1298.50,1794.08 C1306.53,1793.24 1321.20,1791.29 1325.74,1790.73" fill="none" stroke="#1e1c22" stroke-width="0.9"/>
<text transform="translate(1479.25,1578.70) scale(1,1.0397)" font-family='"Liberation Mono", monospace' font-size="31.20" fill="#8d88a6" >Stats</text>
<path d="M1613.60,1629.40 A102.7,102.7 0 0 1 1613.60,1834.80" fill="none" stroke="url(#stG)" stroke-width="7"/>
<path d="M1614.50,1834.80 A102.7,102.7 0 0 1 1545.28,1808.78" fill="none" stroke="url(#stG2)" stroke-width="7" stroke-linecap="round"/>
<text transform="translate(1552.79,1741.50) scale(1,1.0268)" font-family='"Liberation Mono", monospace' font-size="53.46" fill="#16a4e2" font-weight="bold" >6.5k</text>
<path d="M1590.5,1795 L1590.5,1775.5 M1580.5,1785.5 L1590.5,1775.2 L1600.5,1785.5" fill="none" stroke="#199a93" stroke-width="1.1"/>
<text transform="translate(1607.26,1795.30) scale(1,1.2313)" font-family='"Liberation Sans", sans-serif' font-size="26.06" fill="#16938c" stroke="#222024" stroke-width="1.0">5%</text>
<rect x="110.6" y="462.4" width="443.6" height="836.9" rx="66" ry="66" fill="none" stroke="#ffffff" stroke-width="1.8"/>
<text transform="translate(151.76,588.60) scale(1,1.0553)" font-family='"Liberation Mono", monospace' font-size="31.71" fill="#ffffff" >Project Stats</text>
<circle cx="528.0" cy="567.20" r="2.7" fill="#ffffff"/>
<circle cx="528.0" cy="577.25" r="2.7" fill="#ffffff"/>
<circle cx="528.0" cy="587.30" r="2.7" fill="#ffffff"/>
<polygon points="111.2,610.2 553.6,610.2 553.6,649.4 332.4,687.7 111.2,649.4" fill="url(#gBG)"/>
<circle cx="338.3" cy="872.0" r="124.1" fill="none" stroke="#e48470" stroke-width="1.2"/>
<circle cx="338.3" cy="872.0" r="99.2" fill="none" stroke="#e48470" stroke-width="1.2"/>
<path d="M214.50,880.66 A124.1,124.1 0 0 1 411.24,771.60 L396.61,791.75 A99.2,99.2 0 0 0 239.34,878.92 Z" fill="url(#pA)"/>
<circle cx="226.92" cy="879.79" r="12.45" fill="#ff5eaa"/>
<text transform="translate(296.15,888.40) scale(1,1.0275)" font-family='"Liberation Mono", monospace' font-size="49.97" fill="#ffac9c" >33%</text>
<text transform="translate(149.98,1096.30) scale(1,1.0251)" font-family='"Liberation Mono", monospace' font-size="32.38" fill="#ff5fa6" >Lorem</text>
<text transform="translate(150.48,1132.80) scale(1,1.0279)" font-family='"Liberation Mono", monospace' font-size="32.21" fill="#8a87a0" >Ipsum</text>
<text transform="translate(151.10,1169.60) scale(1,1.0242)" font-family='"Liberation Mono", monospace' font-size="32.44" fill="#8a87a0" >Dolor</text>
<rect x="309.2" y="1078.4" width="188.5" height="11.9" fill="url(#hBG)"/>
<rect x="452.8" y="1114.9" width="44.9" height="12.4" fill="url(#hPY)"/>
<rect x="387.6" y="1151.0" width="110.1" height="12.6" fill="url(#hMR)"/>
<rect x="302.4" y="1242.9" width="67.4" height="21.2" rx="10.6" fill="none" stroke="#fff" stroke-width="1.9"/>
<text transform="translate(51.74,2104.40) scale(1,0.9960)" font-family='"Liberation Sans", sans-serif' font-size="72.96" fill="#ffffff" stroke="#fff" stroke-width="1.3">VectorStock</text>
<text transform="translate(1214.26,2102.60) scale(1,0.9916)" font-family='"Liberation Sans", sans-serif' font-size="48.81" fill="#ffffff" stroke="#fff" stroke-width="0.9">VectorStock.com/13658720</text>
</svg>
<div style="position:absolute;left:0;top:0;width:443.6px;height:836.9px;transform-origin:0 0;transform:matrix3d(0.36953945,0.04784846,0,-0.0001319124,-0.44124702,0.18589870,0,-0.0000677550,0,0,1,0,443.80000,1463.40000,0,1.00000000);z-index:1"><svg width="443.6" height="836.9" viewBox="0 0 443.6 836.9" style="overflow:visible;display:block"><rect x="0" y="0" width="443.6" height="836.9" rx="46" ry="46" fill="#222024" stroke="#fff" stroke-width="3.6"/></svg></div><div style="position:absolute;left:0;top:0;width:443.6px;height:836.9px;transform-origin:0 0;transform:matrix3d(0.36967136,0.04940503,0,-0.0001319124,-0.44117926,0.18669821,0,-0.0000677550,0,0,1,0,442.80000,1451.60000,0,1.00000000);z-index:2"><svg width="443.6" height="836.9" viewBox="0 0 443.6 836.9" style="overflow:visible;display:block"><defs><linearGradient id="iBG" x1="0" y1="0" x2="1" y2="0.35"><stop offset="0" stop-color="#5a5cf8"/><stop offset="0.5" stop-color="#4fa7c6"/><stop offset="1" stop-color="#45e58a"/></linearGradient>
<linearGradient id="iBGh" x1="0" y1="0" x2="1" y2="0"><stop offset="0" stop-color="#5a5cf8"/><stop offset="0.5" stop-color="#4fa7c6"/><stop offset="1" stop-color="#45e58a"/></linearGradient>
<linearGradient id="iPYh" x1="0" y1="0" x2="1" y2="0"><stop offset="0" stop-color="#ff5fa6"/><stop offset="0.5" stop-color="#e8a888"/><stop offset="1" stop-color="#c8e25c"/></linearGradient>
<linearGradient id="iMRh" x1="0" y1="0" x2="1" y2="0"><stop offset="0" stop-color="#d83ef6"/><stop offset="0.5" stop-color="#e2407a"/><stop offset="1" stop-color="#f03a10"/></linearGradient>
<linearGradient id="iA" gradientUnits="userSpaceOnUse" x1="100" y1="0" x2="320" y2="0"><stop offset="0" stop-color="#ff5eaa"/><stop offset="0.5" stop-color="#f38e96"/><stop offset="1" stop-color="#dcb67a"/></linearGradient></defs><rect x="0" y="0" width="443.6" height="836.9" rx="46" ry="46" fill="#222024" stroke="#fff" stroke-width="3.6"/><polygon points="0,130 443.6,130 443.6,172 232,210 0,171" fill="url(#iBG)"/><circle cx="420.4" cy="85.5" r="2.9" fill="#fff"/><circle cx="420.4" cy="97.5" r="2.9" fill="#fff"/><circle cx="420.4" cy="109.7" r="2.9" fill="#fff"/><text transform="translate(48.35,106.00) scale(1,1.0397)" font-family='"Liberation Mono", monospace' font-size="31.94" fill="#ffffff" >Project Stats</text><circle cx="235.3" cy="423.3" r="134.5" fill="none" stroke="#e48470" stroke-width="2.4"/><circle cx="235.3" cy="423.3" r="108.0" fill="none" stroke="#e48470" stroke-width="2.4"/><path d="M101.31,435.02 A134.5,134.5 0 0 1 306.57,309.24 L292.53,331.71 A108.0,108.0 0 0 0 127.71,432.71 Z" fill="url(#iA)"/><circle cx="114.51" cy="433.87" r="13.25" fill="#ff5eaa"/><text transform="translate(192.67,441.30) scale(1,1.0794)" font-family='"Liberation Mono", monospace' font-size="49.68" fill="#ffac9c" >33%</text><text transform="translate(37.72,674.20) scale(1,1.0397)" font-family='"Liberation Mono", monospace' font-size="33.72" fill="#ff5fa6" >Lorem</text><text transform="translate(42.92,710.70) scale(1,1.0397)" font-family='"Liberation Mono", monospace' font-size="31.75" fill="#8a87a0" >Ipsum</text><text transform="translate(39.79,746.00) scale(1,1.0397)" font-family='"Liberation Mono", monospace' font-size="31.38" fill="#8a87a0" >Dolor</text><rect x="206.5" y="651.8" width="192.3" height="13" fill="url(#iBGh)"/><rect x="357.1" y="688.1" width="44" height="13" fill="url(#iPYh)"/><rect x="289.4" y="725.9" width="111.7" height="13" fill="url(#iMRh)"/><rect x="191.3" y="771.4" width="67.4" height="21.2" rx="10.6" fill="none" stroke="#fff" stroke-width="3.6"/></svg></div><svg style="position:absolute;left:0;top:0;z-index:3;overflow:visible" width="1" height="1"><line x1="89.60" y1="1705.39" x2="90.60" y2="1717.19" stroke="#fff" stroke-width="1.7"/></svg><svg style="position:absolute;left:0;top:0;z-index:3;overflow:visible" width="1" height="1"><line x1="632.38" y1="1566.86" x2="633.38" y2="1578.66" stroke="#fff" stroke-width="1.7"/></svg></body></html>
